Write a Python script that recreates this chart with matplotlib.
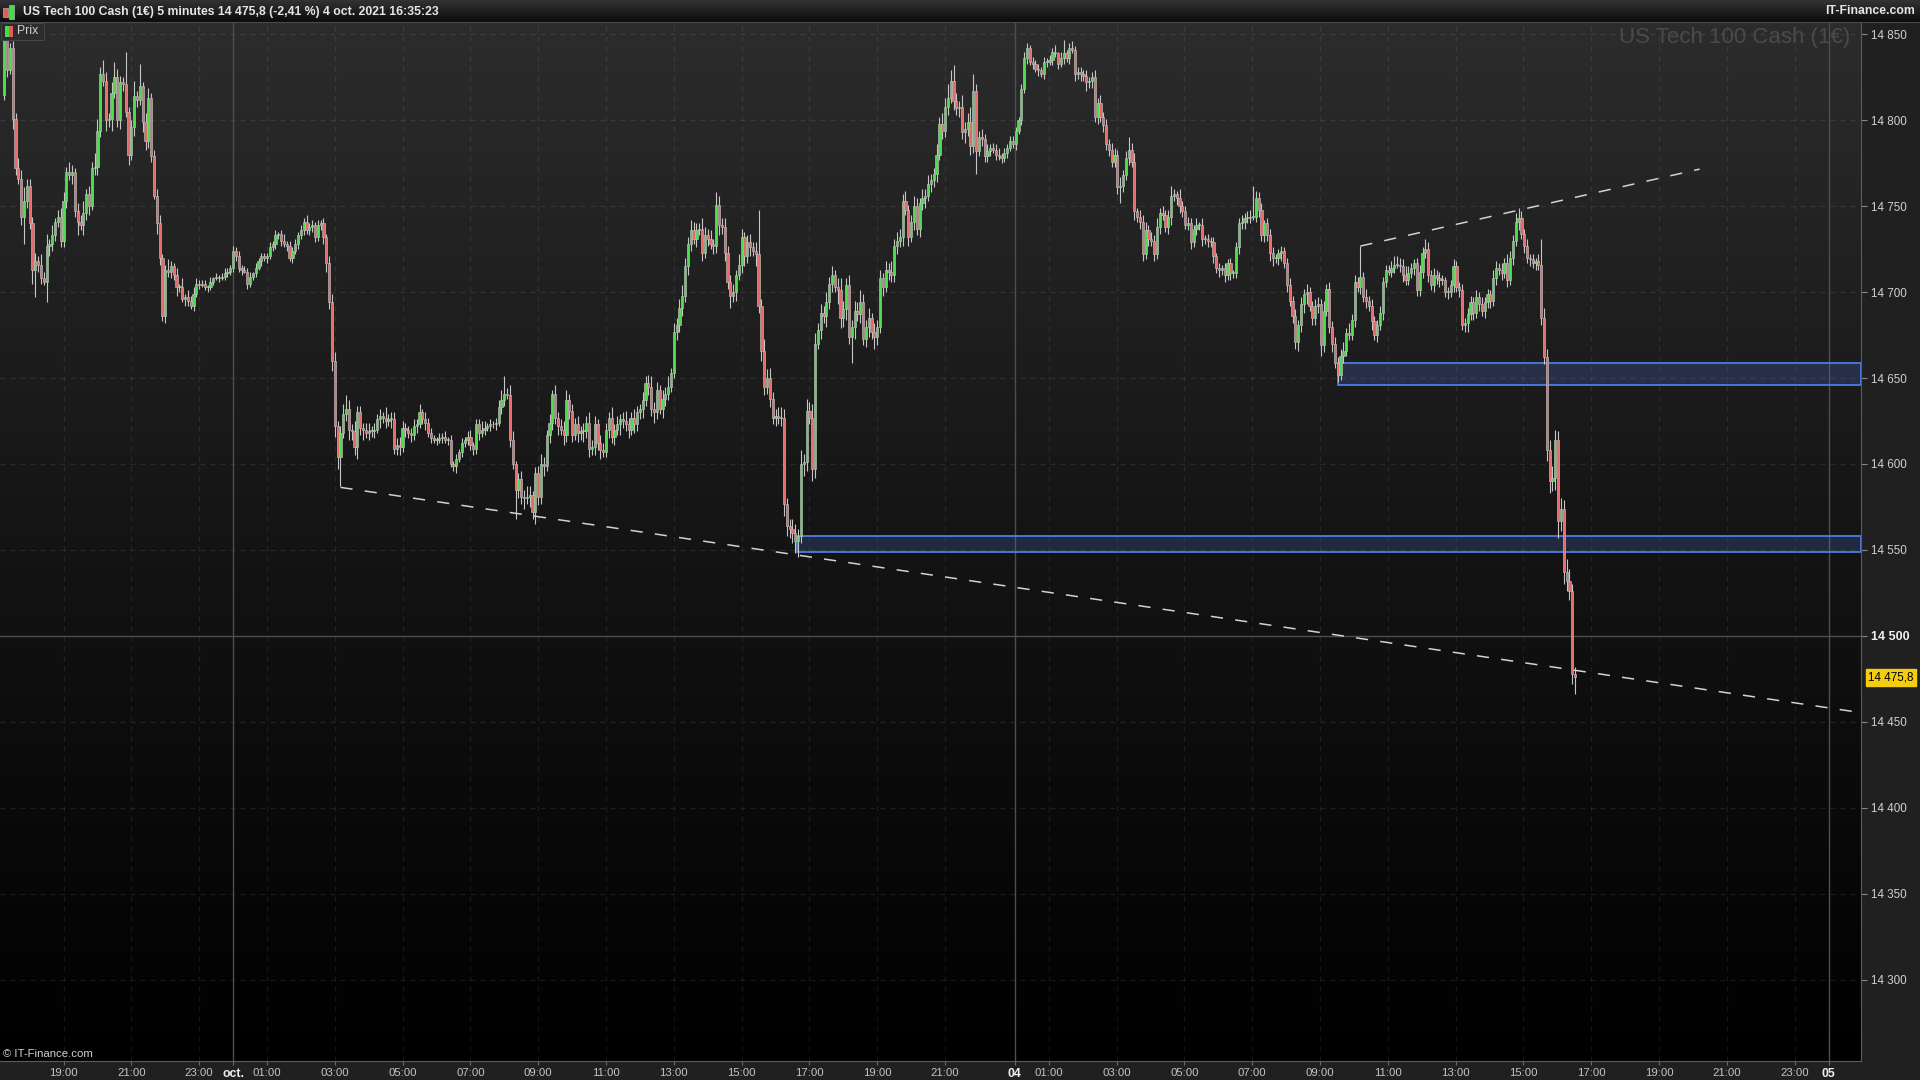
import numpy as np
import matplotlib
matplotlib.use("Agg")
import matplotlib.pyplot as plt
from matplotlib.patches import Rectangle
from matplotlib.colors import LinearSegmentedColormap
import matplotlib.transforms as mtransforms

plt.rcParams['font.family'] = ['Liberation Sans', 'DejaVu Sans']

# --- data: US Tech 100 Cash, 5 minute bars -------------------------------
# one row per hour, first row starts 30 sept 17:15, last bar 4 oct 16:35
first_open = 14815
close_rows = [
    [14847, 14829, 14842, 14801, 14772, 14766, 14744, 14753, 14762],                 # 30/09 17h
    [14740, 14713, 14718, 14716, 14708, 14706, 14727, 14728, 14733, 14741, 14744, 14730],  # 18h
    [14753, 14770, 14768, 14770, 14747, 14741, 14739, 14746, 14757, 14750, 14772, 14773],  # 19h
    [14794, 14827, 14823, 14800, 14801, 14816, 14825, 14800, 14822, 14821, 14805, 14780],  # 20h
    [14796, 14814, 14812, 14820, 14799, 14788, 14813, 14779, 14756, 14740, 14720, 14686],  # 21h
    [14713, 14712, 14715, 14710, 14703, 14703, 14696, 14697, 14695, 14692, 14699, 14705],  # 22h
    [14704, 14705, 14703, 14703, 14706, 14708, 14709, 14708, 14709, 14711, 14712, 14714],  # 23h
    [14724, 14721, 14714, 14713, 14712, 14705, 14709, 14711, 14714, 14718, 14721, 14720],  # 01/10 00h
    [14721, 14726, 14728, 14733, 14734, 14730, 14728, 14727, 14720, 14724, 14728, 14733],  # 01h
    [14736, 14741, 14736, 14738, 14739, 14732, 14739, 14740, 14732, 14717, 14694, 14660],  # 02h
    [14622, 14604, 14618, 14629, 14632, 14620, 14619, 14610, 14630, 14621, 14620, 14618],  # 03h
    [14619, 14619, 14620, 14626, 14628, 14627, 14625, 14626, 14626, 14609, 14611, 14610],  # 04h
    [14621, 14620, 14618, 14617, 14622, 14623, 14630, 14626, 14624, 14618, 14615, 14614],  # 05h
    [14614, 14615, 14616, 14614, 14614, 14600, 14599, 14603, 14607, 14612, 14614, 14616],  # 06h
    [14611, 14609, 14623, 14618, 14620, 14621, 14622, 14623, 14623, 14624, 14633, 14637],  # 07h
    [14641, 14640, 14614, 14600, 14585, 14591, 14581, 14580, 14581, 14582, 14572, 14595],  # 08h
    [14581, 14600, 14599, 14617, 14624, 14641, 14627, 14622, 14620, 14617, 14637, 14631],  # 09h
    [14617, 14623, 14618, 14619, 14619, 14624, 14609, 14610, 14623, 14612, 14608, 14607],  # 10h
    [14620, 14627, 14616, 14620, 14623, 14626, 14625, 14623, 14620, 14627, 14623, 14630],  # 11h
    [14632, 14637, 14647, 14645, 14632, 14630, 14643, 14632, 14638, 14641, 14645, 14653],  # 12h
    [14677, 14681, 14691, 14698, 14715, 14728, 14736, 14731, 14736, 14737, 14723, 14733],  # 13h
    [14731, 14728, 14727, 14751, 14739, 14738, 14723, 14706, 14698, 14700, 14710, 14716],  # 14h
    [14732, 14721, 14729, 14726, 14724, 14722, 14692, 14666, 14645, 14650, 14638, 14627],  # 15h
    [14628, 14627, 14627, 14577, 14564, 14562, 14560, 14555, 14558, 14600, 14601, 14631],  # 16h
    [14627, 14597, 14670, 14678, 14688, 14686, 14694, 14705, 14710, 14703, 14701, 14685],  # 17h
    [14690, 14704, 14674, 14680, 14689, 14687, 14694, 14673, 14680, 14685, 14677, 14674],  # 18h
    [14680, 14708, 14703, 14713, 14712, 14710, 14727, 14730, 14732, 14753, 14748, 14732],  # 19h
    [14741, 14750, 14737, 14752, 14755, 14756, 14763, 14765, 14769, 14780, 14798, 14794],  # 20h
    [14808, 14813, 14823, 14811, 14807, 14808, 14793, 14795, 14799, 14785, 14817, 14782],  # 21h
    [14790, 14789, 14779, 14782, 14784, 14783, 14780, 14779, 14778, 14781, 14784, 14788],  # 22h
    [14786, 14794, 14800, 14818, 14836, 14842, 14834, 14833, 14830, 14829, 14827, 14834],  # 04/10 00h
    [14834, 14835, 14840, 14839, 14833, 14836, 14839, 14836, 14842, 14841, 14827, 14828],  # 01h
    [14827, 14826, 14822, 14823, 14825, 14802, 14810, 14802, 14797, 14786, 14783, 14776],  # 02h
    [14780, 14761, 14762, 14768, 14778, 14783, 14776, 14747, 14744, 14741, 14722, 14736],  # 03h
    [14731, 14730, 14722, 14738, 14746, 14745, 14738, 14744, 14756, 14757, 14755, 14750],  # 04h
    [14747, 14739, 14740, 14729, 14737, 14739, 14739, 14731, 14731, 14730, 14729, 14721],  # 05h
    [14714, 14713, 14714, 14710, 14717, 14711, 14711, 14726, 14740, 14741, 14743, 14743],  # 06h
    [14744, 14744, 14755, 14748, 14733, 14740, 14733, 14723, 14720, 14720, 14723, 14724],  # 07h
    [14717, 14704, 14695, 14686, 14671, 14681, 14693, 14699, 14700, 14692, 14685, 14692],  # 08h
    [14693, 14669, 14689, 14702, 14680, 14670, 14659, 14652, 14663, 14666, 14676, 14675],  # 09h
    [14684, 14706, 14703, 14709, 14697, 14695, 14692, 14683, 14675, 14681, 14688, 14706],  # 10h
    [14713, 14712, 14714, 14716, 14716, 14715, 14710, 14707, 14711, 14714, 14717, 14701],  # 11h
    [14712, 14723, 14725, 14710, 14704, 14710, 14708, 14707, 14707, 14700, 14700, 14704],  # 12h
    [14715, 14703, 14701, 14681, 14682, 14687, 14694, 14688, 14697, 14693, 14689, 14694],  # 13h
    [14699, 14695, 14708, 14714, 14713, 14711, 14717, 14707, 14720, 14730, 14741, 14743],  # 14h
    [14734, 14727, 14720, 14719, 14717, 14718, 14716, 14685, 14662, 14608, 14590, 14592],  # 15h
    [14614, 14567, 14574, 14537, 14532, 14526, 14478, 14475.8],                       # 16h
]

# upper / lower wicks in points beyond the body, one digit per bar
wick_up_rows = [
    "253 436 584", "4453 6473 6245", "5364 2547 3548", "7485 3695 4393", "4938 2563 4452",
    "3632 4252 4343", "2221 3121 2322",
    "3232 2231 3222", "2323 1242 3232", "3242 3232 3245", "5346 8536 4434", "5343 4263 4445",
    "4323 4352 4332", "2323 2323 2323", "4233 5423 2346", "4365 2454 6523", "4643 5253 4564",
    "4453 5464 5354", "4363 5346 4354", "3545 6453 5463", "5456 5465 4365", "4537 6454 4536",
    "5345 3564 7564", "4565 3465 4857", "5864 5464 5357", "5464 6575 4635", "4535 4645 5463",
    "4653 5454 3646", "5864 5374 5964", "4534 2334 2323",
    "3223 4323 2323", "2324 1432 3423", "3232 3435 3434", "4353 4645 2445", "3435 3434 6325",
    "3343 2424 2323", "2323 2323 3434", "4243 4234 3223", "2343 4343 5334", "4363 4343 4536",
    "3434 3534 3343", "3345 5445 4323", "4364 3434 3233", "4334 3443 4343", "3254 3435 4356",
    "4342 3243 6567", "6565 8744",
]
wick_dn_rows = [
    "342 643 534", "3854 3256 4334", "4435 3836 4524", "5436 4734 5436", "3543 6543 2643",
    "4343 5324 3232", "2123 2212 1222",
    "2323 1322 2132", "3223 2323 2323", "2323 3323 4546", "6753 4655 7463", "4342 5343 5345",
    "3434 3423 4232", "3232 3234 2323", "3434 2323 2324", "3243 6546 3646", "5463 5445 3645",
    "4354 6454 5453", "3545 3644 5354", "4535 4643 5443", "3545 4543 5353", "4354 6454 7453",
    "5645 3746 5454", "5457 6567 9475", "4753 5464 5386", "5643 7454 5647", "5453 5445 4535",
    "3545 4635 4535", "4535 4546 4546", "3433 3232 3232",
    "2323 2323 2323", "3232 3232 3243", "4353 4343 4343", "3454 3435 3443", "4343 4334 5344",
    "3234 3434 3434", "3434 3433 4343", "3234 3435 5345", "3434 4545 6344", "4643 4534 3433",
    "3434 3435 3434", "3233 2343 3343", "3434 3434 3343", "4343 4534 3434", "3434 3434 3435",
    "3434 3434 4676", "7567 6566",
]
# long wicks (bar index: price)
high_fix = {43: 14840, 48: 14833, 177: 14651, 253: 14756, 267: 14748, 336: 14832,
            343: 14827, 375: 14847, 398: 14790, 442: 14762, 480: 14727, 544: 14731}
low_fix = {7: 14728, 11: 14697, 15: 14694, 119: 14587, 181: 14568, 188: 14565,
           280: 14548, 300: 14659, 344: 14769, 395: 14752, 550: 14557, 556: 14466}

# time axis labels (bar index of 30/09 19:00 is 21, 01/10 00:00 is 81)
oct1_start = 81
oct4_start = 357.7
sep30_hours = [19, 21, 23]
oct1_hours = [1, 3, 5, 7, 9, 11, 13, 15, 17, 19, 21]
oct4_hours = [1, 3, 5, 7, 9, 11, 13, 15, 17, 19, 21, 23]
day_labels = ['oct.', '04', '05']
price_levels = [14300, 14350, 14400, 14450, 14500, 14550, 14600, 14650, 14700, 14750, 14800, 14850]

# drawn objects
support_line = ([119, 657.2], [14586.4, 14455.3])
resistance_line = ([480, 600.1], [14726.8, 14771.6])
zones = [(472.2, 14646.0, 14658.6), (280.6, 14548.6, 14558.0)]
last_price = 14475.8

# --- build OHLC ------------------------------------------------------------
closes = np.array([v for row in close_rows for v in row], dtype=float)
up = np.array([int(c) for row in wick_up_rows for c in row.replace(' ', '')])
dn = np.array([int(c) for row in wick_dn_rows for c in row.replace(' ', '')])
n = len(closes)
opens = np.concatenate([[first_open], closes[:-1]])
highs = np.maximum(opens, closes) + up
lows = np.minimum(opens, closes) - dn
for k, v in high_fix.items():
    highs[k] = v
for k, v in low_fix.items():
    lows[k] = v
x = np.arange(n)

# --- figure ----------------------------------------------------------------
W, H = 1920, 1080
fig = plt.figure(figsize=(19.2, 10.8), dpi=100, facecolor='#202020')
ax = fig.add_axes([0, 19 / H, 1861 / W, 1039 / H])

bg = LinearSegmentedColormap.from_list('bg', ['#000000', '#141414', '#2c2c2c'])
ax.imshow(np.linspace(0, 1, 256).reshape(-1, 1), extent=[0, 1, 0, 1], transform=ax.transAxes,
          origin='lower', aspect='auto', cmap=bg, zorder=0)

xmin, xmax = -1.5, 657.2
ax.set_xlim(xmin, xmax)
ax.set_ylim(14252.6, 14857.2)

# grid
for lvl in price_levels:
    if lvl == 14500:
        ax.axhline(lvl, color='#4e4e4e', lw=1, zorder=1)
    else:
        ax.axhline(lvl, color=(1, 1, 1, 0.09), lw=0.9, ls=(0, (4, 4)), zorder=1)

tick_pos, tick_lab = [], []
for h in sep30_hours:
    tick_pos.append(oct1_start - 24 * 12 + 12 * h)
    tick_lab.append(f'{h:02d}:00')
tick_pos.append(oct1_start)
tick_lab.append(day_labels[0])
for h in oct1_hours:
    tick_pos.append(oct1_start + 12 * h)
    tick_lab.append(f'{h:02d}:00')
tick_pos.append(oct4_start)
tick_lab.append(day_labels[1])
for h in oct4_hours:
    tick_pos.append(oct4_start + 12 * h)
    tick_lab.append(f'{h:02d}:00')
tick_pos.append(oct4_start + 288)
tick_lab.append(day_labels[2])

for p, lab in zip(tick_pos, tick_lab):
    if lab in day_labels:
        ax.axvline(p, color='#4e4e4e', lw=1, zorder=1)
    else:
        ax.axvline(p, color=(1, 1, 1, 0.08), lw=0.9, ls=(0, (4, 4)), zorder=1)

# zones
for x0, y0, y1 in zones:
    ax.add_patch(Rectangle((x0, y0), xmax - x0 - 0.05, y1 - y0, facecolor=(0.3, 0.42, 0.8, 0.25),
                           edgecolor='#4f86f0', lw=1.2, zorder=2))

# candles
ax.vlines(x, lows, highs, color='#c6c6c6', lw=0.8, zorder=3)
rise = closes >= opens
body_h = np.maximum(np.abs(closes - opens), 0.5)
ax.bar(x, body_h, bottom=np.minimum(opens, closes), width=0.78,
       color=np.where(rise, '#4fdc4f', '#e66a6a'), edgecolor='#bdbdbd', linewidth=0.45, zorder=4)

# trend lines
ax.plot(*support_line, color='#d2d2d2', lw=1.1, ls=(0, (8, 8)), zorder=5)
ax.plot(*resistance_line, color='#d2d2d2', lw=1.1, ls=(0, (8, 8)), zorder=5)

# axes styling
for s in ['top', 'left']:
    ax.spines[s].set_visible(False)
for s in ['right', 'bottom']:
    ax.spines[s].set_color('#5c5c5c')

ax.yaxis.tick_right()
ax.set_yticks(price_levels)
ax.set_yticklabels([f'{v // 1000} {v % 1000:03d}' for v in price_levels])
ax.tick_params(axis='y', colors='#888888', labelcolor='#d0d0d0', labelsize=8.4, length=4, pad=3)
for t in ax.get_yticklabels():
    if t.get_text() == '14 500':
        t.set_fontweight('bold')
        t.set_fontsize(9)
        t.set_color('#f0f0f0')

ax.set_xticks(tick_pos)
ax.set_xticklabels(tick_lab)
ax.tick_params(axis='x', colors='#6a6a6a', labelcolor='#c4c4c4', labelsize=8.2, length=3, pad=2)
for t in ax.get_xticklabels():
    if t.get_text() in day_labels:
        t.set_fontweight('bold')
        t.set_fontsize(8.8)
        t.set_color('#eeeeee')

# last price tag
trans = mtransforms.blended_transform_factory(ax.transAxes, ax.transData)
ax.text(1.004, last_price, '14 475,8', transform=trans, ha='left', va='center', fontsize=8.4,
        color='black', clip_on=False, zorder=10,
        bbox=dict(boxstyle='square,pad=0.18', facecolor='#f5cd10', edgecolor='#f5cd10'))

# --- overlay in pixel coordinates --------------------------------------------
ov = fig.add_axes([0, 0, 1, 1], zorder=20)
ov.set_facecolor('none')
hdr = LinearSegmentedColormap.from_list('hdr', ['#333333', '#0b0b0b'])
ov.imshow(np.linspace(0, 1, 64).reshape(-1, 1), extent=[0, W, 22, 0], aspect='auto', cmap=hdr)
ov.set_xlim(0, W)
ov.set_ylim(H, 0)
ov.axis('off')

ov.axhline(22, color='#4a4a4a', lw=0.8)
ov.add_patch(Rectangle((3, 8), 5, 9, facecolor='#e65a5a', edgecolor='#b0b0b0', lw=0.5))
ov.add_patch(Rectangle((9, 5), 5, 14, facecolor='#44dd44', edgecolor='#b0b0b0', lw=0.5))
ov.text(23, 11.5, 'US Tech 100 Cash (1€) 5 minutes 14 475,8 (-2,41 %) 4 oct. 2021 16:35:23',
        fontsize=8.8, fontweight='bold', color='#e6e6e6', ha='left', va='center')
ov.text(1915, 11.5, 'IT-Finance.com', fontsize=8.8, fontweight='bold', color='#e6e6e6',
        ha='right', va='center')

# legend chip
ov.add_patch(Rectangle((0.5, 22.5), 43, 17, facecolor='#2c2c2c', edgecolor='#444444', lw=0.8))
ov.add_patch(Rectangle((5, 25.5), 4, 11, facecolor='#44dd44', lw=0))
ov.add_patch(Rectangle((9, 25.5), 4, 11, facecolor='#e65a5a', lw=0))
ov.text(17, 31, 'Prix', fontsize=8.8, color='#d0d0d0', ha='left', va='center')

# watermark and copyright
ov.text(1850, 37, 'US Tech 100 Cash (1€)', fontsize=16, color='#4a4a4a', ha='right', va='center')
ov.text(3, 1054, '© IT-Finance.com', fontsize=8.2, color='#d0d0d0', ha='left', va='center')

fig.savefig('out.png', dpi=100, facecolor=fig.get_facecolor())
